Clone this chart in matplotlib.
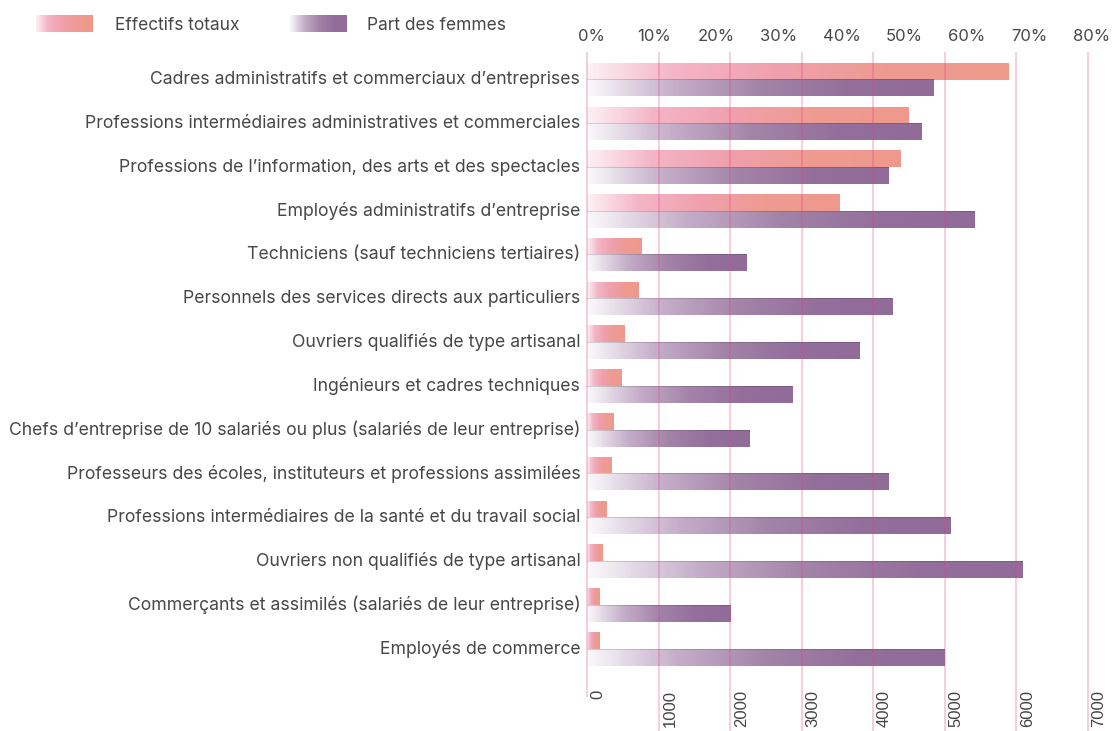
import numpy as np
import matplotlib.pyplot as plt
from matplotlib.colors import LinearSegmentedColormap
from matplotlib import transforms

categories = [
    "Cadres administratifs et commerciaux d\u2019entreprises",
    "Professions interm\u00e9diaires administratives et commerciales",
    "Professions de l\u2019information, des arts et des spectacles",
    "Employ\u00e9s administratifs d\u2019entreprise",
    "Techniciens (sauf techniciens tertiaires)",
    "Personnels des services directs aux particuliers",
    "Ouvriers qualifi\u00e9s de type artisanal",
    "Ing\u00e9nieurs et cadres techniques",
    "Chefs d\u2019entreprise de 10 salari\u00e9s ou plus (salari\u00e9s de leur entreprise)",
    "Professeurs des \u00e9coles, instituteurs et professions assimil\u00e9es",
    "Professions interm\u00e9diaires de la sant\u00e9 et du travail social",
    "Ouvriers non qualifi\u00e9s de type artisanal",
    "Commer\u00e7ants et assimil\u00e9s (salari\u00e9s de leur entreprise)",
    "Employ\u00e9s de commerce",
]
effectifs = [5900, 4500, 4390, 3530, 765, 723, 527, 485, 373, 345, 275, 219, 178, 178]
part_femmes = [0.554, 0.535, 0.482, 0.620, 0.255, 0.489, 0.436, 0.329,
               0.260, 0.482, 0.581, 0.697, 0.230, 0.572]

count_ticks = list(range(0, 8000, 1000))
pct_ticks = [0, 0.1, 0.2, 0.3, 0.4, 0.5, 0.6, 0.7, 0.8]

pink = LinearSegmentedColormap.from_list("pink", [
    (0, "#fdf1f5"), (0.2, "#f4b6c7"), (0.45, "#f0a0ad"), (0.7, "#ee9b92"), (1, "#ee998b")])
purple = LinearSegmentedColormap.from_list("purple", [
    (0, "#faf9fb"), (0.25, "#c5aec9"), (0.5, "#a384a8"), (0.75, "#946f9b"), (1, "#926c99")])

W, H = 1113, 731
fig = plt.figure(figsize=(W / 100, H / 100), dpi=100)
x0, x1 = 587.3, 1087.7
y_top, y_bot = 52, 688
ax = fig.add_axes([x0 / W, 1 - y_bot / H, (x1 - x0) / W, (y_bot - y_top) / H])
ax2 = ax.twiny()

bh = 0.377


def grad_img(cmap, edge=None, rows=16):
    img = cmap(np.linspace(0, 1, 600))[None, :, :].repeat(rows, axis=0)
    if edge is not None:
        img[0, :, :3] = img[0, :, :3] * 0.85
    return img


for i, v in enumerate(effectifs):
    ax.imshow(grad_img(pink), extent=[0, v, i, i - bh], aspect="auto",
              interpolation="nearest", zorder=2)
for i, v in enumerate(part_femmes):
    ax2.imshow(grad_img(purple, edge=True), extent=[0, v, i + bh, i], aspect="auto",
               interpolation="nearest", zorder=2)

ax.set_xlim(0, 7000)
ax2.set_xlim(0, 0.8)
ax.set_ylim(13.89, -0.633)

# grid lignes verticales
trans = transforms.blended_transform_factory(ax.transData, ax.transAxes)
for t in count_ticks:
    ymin = -(697 - 688) / 636 if t == 0 else -(731 - 688) / 636
    ax2.plot([t, t], [ymin, 1], transform=trans, color="#e63b82", alpha=0.28,
             lw=1.3, clip_on=False, zorder=3, solid_capstyle="butt")

for a in (ax, ax2):
    for s in a.spines.values():
        s.set_visible(False)

ax.set_yticks(range(len(categories)))
ax.set_yticklabels(categories, fontfamily="Inter", fontsize=12.7, color="#474747")
ax.tick_params(axis="y", length=0, pad=5)
up = transforms.ScaledTranslation(0, 2 / 100, fig.dpi_scale_trans)
for lab in ax.get_yticklabels():
    lab.set_transform(lab.get_transform() + up)

ax.set_xticks(count_ticks)
ax.set_xticklabels([str(t) for t in count_ticks], rotation=90,
                   fontfamily="Liberation Sans", fontsize=12, color="#444444")
ax.tick_params(axis="x", length=0, pad=1.5)
off = transforms.ScaledTranslation(11 / 100, 0, fig.dpi_scale_trans)
for lab in ax.get_xticklabels():
    lab.set_transform(lab.get_transform() + off)

ax2.set_xticks(pct_ticks)
ax2.set_xticklabels([f"{int(round(p * 100))}%" for p in pct_ticks],
                    fontfamily="Inter", fontsize=12, color="#474747")
ax2.tick_params(axis="x", length=0, pad=5.5)
off2 = transforms.ScaledTranslation(4 / 100, 0, fig.dpi_scale_trans)
for lab in ax2.get_xticklabels():
    lab.set_transform(lab.get_transform() + off2)

# légende
for (lx, cmap, txt, tx) in [(36, pink, "Effectifs totaux", 115),
                            (290, purple, "Part des femmes", 367)]:
    la = fig.add_axes([lx / W, 1 - 32 / H, 57 / W, 17 / H])
    la.imshow(grad_img(cmap), aspect="auto", interpolation="nearest")
    la.axis("off")
    fig.text(tx / W, 1 - 25.5 / H, txt, fontfamily="Inter",
             fontsize=12.5, color="#474747", va="center", ha="left")

fig.savefig("out.png", dpi=100)
